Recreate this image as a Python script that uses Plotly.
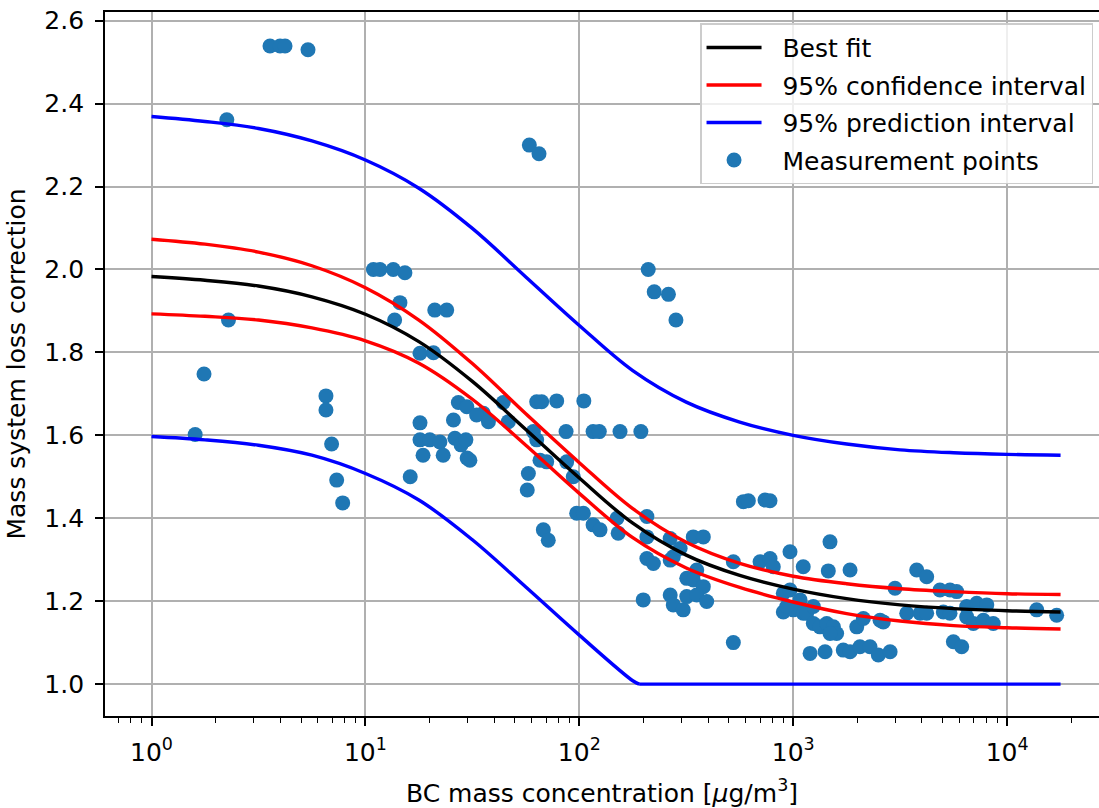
import plotly.graph_objects as go

# Sample positions along the fitted curves (BC mass concentration, µg/m³)
curve_x = [1.0, 1.778, 3.162, 5.623, 10.0, 17.78, 31.62, 56.23, 100.0, 177.8,
           316.2, 562.3, 1000.0, 1778.0, 3162.0, 5623.0, 10000.0, 17780.0]

best_fit = [1.983, 1.974, 1.960, 1.934, 1.892, 1.826, 1.730, 1.614, 1.497, 1.388,
            1.311, 1.262, 1.229, 1.206, 1.191, 1.182, 1.177, 1.174]
ci_upper = [2.073, 2.061, 2.042, 2.009, 1.956, 1.878, 1.773, 1.652, 1.534, 1.423,
            1.342, 1.291, 1.260, 1.242, 1.230, 1.223, 1.218, 1.216]
ci_lower = [1.893, 1.887, 1.878, 1.859, 1.828, 1.774, 1.687, 1.576, 1.460, 1.353,
            1.280, 1.233, 1.198, 1.170, 1.152, 1.141, 1.136, 1.133]
pi_upper = [2.369, 2.357, 2.340, 2.310, 2.264, 2.196, 2.099, 1.982, 1.865, 1.756,
            1.680, 1.632, 1.600, 1.579, 1.565, 1.558, 1.554, 1.552]

# Lower prediction bound: curved part, then clipped at 1.0
pi_lower_x = [1.0, 1.778, 3.162, 5.623, 10.0, 17.78, 31.62, 56.23, 100.0, 177.8, 190.5]
pi_lower = [1.597, 1.589, 1.576, 1.552, 1.508, 1.444, 1.348, 1.234, 1.118, 1.008, 1.0]
pi_floor_x = [190.5, 17780.0]
pi_floor = [1.0, 1.0]

# Measurement points
meas_x = [3.58, 3.99, 4.21, 5.39, 2.25, 2.29, 1.76, 1.60, 6.54, 6.54,
          6.95, 7.34, 7.83, 10.9, 11.7, 13.5, 15.3, 14.5, 13.7, 21.1,
          24.0, 18.0, 20.8, 27.2, 29.8, 25.8, 18.0, 18.0, 18.6, 20.0,
          22.3, 23.1, 26.2, 28.0, 29.5, 29.9, 30.8, 16.2, 63.2, 66.7,
          78.4, 105, 86.7, 116, 124, 155, 194, 44.1, 35.6, 46.6,
          33.1, 37.6, 61.0, 63.2, 65.5, 70.4, 87.3, 57.8, 93.7, 57.1,
          97.2, 104.5, 116, 125, 150, 152, 207, 207, 67.9, 71.6,
          207, 222, 266, 275, 296, 266, 341, 380, 354, 318,
          341, 380, 199, 266, 275, 306, 318, 354, 394, 525,
          585, 617, 738, 779, 525, 700, 779, 807, 966, 1114,
          899, 966, 899, 1000, 1114, 1199, 1486, 1459, 1844, 933,
          1076, 1156, 1242, 1242, 1334, 1435, 1541, 1596, 1486, 1409,
          1714, 1844, 2051, 2286, 2500, 2838, 1982, 2128, 2547, 2637,
          2992, 3394, 3918, 4207, 3779, 4207, 4853, 5408, 5808, 5033,
          5408, 5609, 6134, 6471, 7211, 8035, 6471, 6950, 7745, 8616,
          13750, 17050, 210, 224, 261, 283, 58.4, 64.8]
meas_y = [2.539, 2.539, 2.539, 2.530, 2.361, 1.878, 1.748, 1.602, 1.695, 1.661,
          1.579, 1.492, 1.437, 2.000, 2.000, 2.000, 1.992, 1.920, 1.878, 1.902,
          1.902, 1.798, 1.799, 1.679, 1.669, 1.637, 1.630, 1.589, 1.552, 1.589,
          1.584, 1.552, 1.593, 1.577, 1.589, 1.545, 1.540, 1.500, 1.681, 1.681,
          1.683, 1.683, 1.609, 1.609, 1.609, 1.609, 1.609, 1.679, 1.653, 1.633,
          1.649, 1.633, 1.609, 1.589, 1.540, 1.536, 1.536, 1.508, 1.500, 1.468,
          1.412, 1.412, 1.384, 1.372, 1.400, 1.364, 1.404, 1.355, 1.372, 1.347,
          1.303, 1.291, 1.351, 1.307, 1.327, 1.299, 1.355, 1.355, 1.275, 1.255,
          1.251, 1.235, 1.203, 1.215, 1.191, 1.179, 1.211, 1.215, 1.199, 1.100,
          1.440, 1.442, 1.444, 1.442, 1.295, 1.295, 1.303, 1.283, 1.319, 1.283,
          1.219, 1.227, 1.174, 1.179, 1.171, 1.074, 1.343, 1.273, 1.275, 1.187,
          1.203, 1.171, 1.187, 1.146, 1.138, 1.146, 1.138, 1.122, 1.122, 1.078,
          1.082, 1.078, 1.090, 1.090, 1.070, 1.078, 1.138, 1.158, 1.154, 1.150,
          1.231, 1.171, 1.171, 1.171, 1.275, 1.259, 1.227, 1.227, 1.223, 1.174,
          1.171, 1.102, 1.090, 1.187, 1.195, 1.191, 1.162, 1.146, 1.154, 1.146,
          1.179, 1.166, 2.000, 1.946, 1.940, 1.878, 2.300, 2.279]

x_tick_vals = [1, 10, 100, 1000, 10000]
x_tick_text = ["10<sup>0</sup>", "10<sup>1</sup>", "10<sup>2</sup>",
               "10<sup>3</sup>", "10<sup>4</sup>"]
y_tick_vals = [1.0, 1.2, 1.4, 1.6, 1.8, 2.0, 2.2, 2.4, 2.6]
y_tick_text = ["1.0", "1.2", "1.4", "1.6", "1.8", "2.0", "2.2", "2.4", "2.6"]

# minor log ticks 2..9 of each decade
minor_vals = [k * 10 ** n for n in range(-1, 5) for k in range(2, 10)]

FS = 25
LW = 3.4
PAD = "\u00a0\u00a0"  # small gap between legend handle and label

fig = go.Figure()

fig.add_trace(go.Scatter(
    x=meas_x, y=meas_y, mode="markers", name=PAD + "Measurement points",
    marker=dict(color="#1f77b4", size=15, line=dict(width=0)),
    legendrank=4, legendgroup="meas",
))
fig.add_trace(go.Scatter(
    x=curve_x, y=best_fit, mode="lines", name=PAD + "Best fit",
    line=dict(color="black", width=LW, shape="spline"), legendrank=1,
    legendgroup="fit",
))
fig.add_trace(go.Scatter(
    x=curve_x, y=ci_upper, mode="lines", name=PAD + "95% confidence interval",
    line=dict(color="red", width=LW, shape="spline"), legendrank=2,
    legendgroup="ci",
))
fig.add_trace(go.Scatter(
    x=curve_x, y=ci_lower, mode="lines", showlegend=False,
    line=dict(color="red", width=LW, shape="spline"), legendgroup="ci",
))
fig.add_trace(go.Scatter(
    x=curve_x, y=pi_upper, mode="lines", name=PAD + "95% prediction interval",
    line=dict(color="blue", width=LW, shape="spline"), legendrank=3,
    legendgroup="pi",
))
fig.add_trace(go.Scatter(
    x=pi_lower_x, y=pi_lower, mode="lines", showlegend=False,
    line=dict(color="blue", width=LW, shape="spline"), legendgroup="pi",
))
fig.add_trace(go.Scatter(
    x=pi_floor_x, y=pi_floor, mode="lines", showlegend=False,
    line=dict(color="blue", width=LW), legendgroup="pi",
))

axis_common = dict(
    ticks="outside", ticklen=8, tickwidth=1.9, tickcolor="black",
    showline=True, linecolor="black", linewidth=1.9,
    showgrid=True, gridcolor="#b0b0b0", gridwidth=1.9, zeroline=False,
    tickfont=dict(size=FS, color="black"),
)

fig.update_xaxes(
    type="log", range=[-0.2174, 4.4296],
    tickmode="array", tickvals=x_tick_vals, ticktext=x_tick_text,
    mirror=True, ticklabelstandoff=5,
    minor=dict(tickmode="array", tickvals=minor_vals, ticks="outside",
               ticklen=5, tickwidth=1.4, tickcolor="black", showgrid=False),
    title=dict(text="BC mass concentration [<i>μ</i>g/m<sup>3</sup>]",
               font=dict(size=FS, color="black"), standoff=20),
    **axis_common,
)
fig.update_yaxes(
    range=[0.923, 2.621],
    tickmode="array", tickvals=y_tick_vals, ticktext=y_tick_text,
    ticklabelstandoff=6,
    title=dict(text="Mass system loss correction",
               font=dict(size=FS, color="black"), standoff=12),
    **axis_common,
)

fig.update_layout(
    width=1099, height=808,
    margin=dict(l=105, r=0, t=12, b=92, autoexpand=False),
    plot_bgcolor="white", paper_bgcolor="white",
    font=dict(family="DejaVu Sans", size=FS, color="black"),
    legend=dict(
        x=0.994, y=0.984, xanchor="right", yanchor="top",
        bgcolor="rgba(255,255,255,0.8)", bordercolor="#cccccc", borderwidth=1.5,
        font=dict(size=FS, color="black"), itemwidth=55, tracegroupgap=2,
    ),
)

fig.write_html("out.html")
